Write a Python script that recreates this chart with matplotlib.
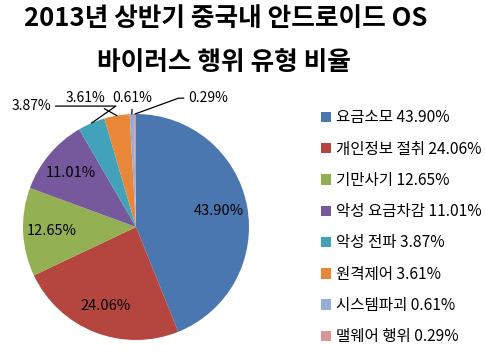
import matplotlib
matplotlib.use("Agg")
import matplotlib.pyplot as plt
import numpy as np

plt.rcParams['font.family'] = ['Noto Sans CJK KR', 'DejaVu Sans']

# 데이터
names = ['요금소모', '개인정보 절취', '기만사기', '악성 요금차감', '악성 전파', '원격제어', '시스템파괴', '맬웨어 행위']
values = [43.90, 24.06, 12.65, 11.01, 3.87, 3.61, 0.61, 0.29]
colors = ['#4A77AF', '#B4453F', '#93B052', '#76599C', '#41A2BA', '#E98739', '#94AEDA', '#D99694']

W, H = 486, 353
fig = plt.figure(figsize=(W / 100, H / 100), dpi=100)

# 제목
fig.text(226 / W, 1 - 18 / H, '2013년 상반기 중국내 안드로이드 OS', ha='center', va='center',
         fontsize=18.5, fontweight='bold')
fig.text(224 / W, 1 - 63 / H, '바이러스 행위 유형 비율', ha='center', va='center',
         fontsize=18.5, fontweight='bold')

# 파이
cx, cy, r = 136, 227, 113
ax = fig.add_axes([(cx - r) / W, (H - cy - r) / H, 2 * r / W, 2 * r / H])
wedges, _ = ax.pie(values, colors=colors, startangle=90, counterclock=False,
                   radius=1, wedgeprops=dict(linewidth=0))
ax.set_xlim(-1, 1)
ax.set_ylim(-1, 1)
ax.set_aspect('auto')
ax.axis('off')

# 안쪽 라벨
for i in range(4):
    w = wedges[i]
    ang = np.deg2rad((w.theta1 + w.theta2) / 2)
    ax.text(0.75 * np.cos(ang), 0.75 * np.sin(ang), '%.2f%%' % values[i],
            ha='center', va='center', fontsize=10.5)

# 바깥 라벨 (지시선)
def edge(i):
    w = wedges[i]
    ang = np.deg2rad((w.theta1 + w.theta2) / 2)
    return np.cos(ang), np.sin(ang)

lp = dict(arrowstyle='-', color='black', lw=0.9, shrinkA=1, shrinkB=0)
ax.annotate('%.2f%%' % values[4], xy=edge(4), xytext=(-0.75, 1.07),
            ha='right', va='center', fontsize=10, annotation_clip=False,
            arrowprops=dict(lp, connectionstyle='angle,angleA=0,angleB=35,rad=0'))
ax.annotate('%.2f%%' % values[5], xy=edge(5), xytext=(-0.27, 1.14),
            ha='right', va='center', fontsize=10, annotation_clip=False,
            arrowprops=dict(lp))
ax.annotate('%.2f%%' % values[6], xy=edge(6), xytext=(-0.03, 1.14),
            ha='center', va='center', fontsize=10, annotation_clip=False,
            arrowprops=dict(lp))
ax.annotate('%.2f%%' % values[7], xy=edge(7), xytext=(0.46, 1.14),
            ha='left', va='center', fontsize=10, annotation_clip=False,
            arrowprops=dict(lp, connectionstyle='angle,angleA=0,angleB=20,rad=0'))

# 범례
labels = ['%s %.2f%%' % (n, v) for n, v in zip(names, values)]
fig.legend(wedges, labels, loc='upper left', bbox_to_anchor=(315 / W, 1 - 103 / H),
           frameon=False, fontsize=11.2, handlelength=0.65, handleheight=0.65,
           handletextpad=0.3, labelspacing=0.92, borderaxespad=0)

fig.savefig('out.png', dpi=100)
